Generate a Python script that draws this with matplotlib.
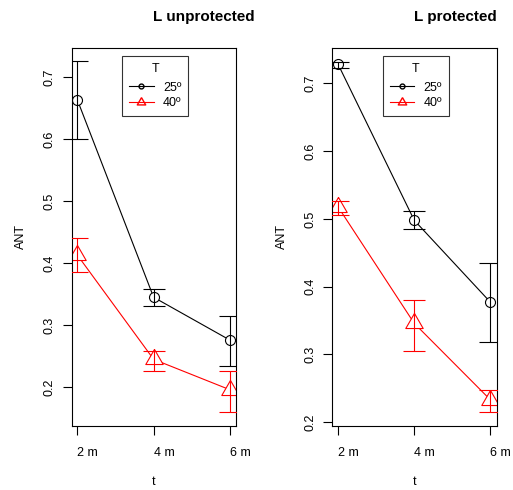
import matplotlib
matplotlib.use("Agg")
import matplotlib.pyplot as plt
from matplotlib.lines import Line2D
import numpy as np

plt.rcParams['font.family'] = ['Liberation Sans', 'DejaVu Sans']

# ANT by time (t) and temperature (T), mean with error limits
times = ['2 m', '4 m', '6 m']
temps = ['25º', '40º']

unprot_25 = [0.663, 0.345, 0.276]
unprot_25_lo = [0.600, 0.331, 0.235]
unprot_25_hi = [0.725, 0.358, 0.314]
unprot_40 = [0.413, 0.245, 0.196]
unprot_40_lo = [0.385, 0.227, 0.160]
unprot_40_hi = [0.441, 0.259, 0.226]

prot_25 = [0.7285, 0.498, 0.377]
prot_25_lo = [0.722, 0.485, 0.319]
prot_25_hi = [0.731, 0.511, 0.4345]
prot_40 = [0.518, 0.346, 0.233]
prot_40_lo = [0.506, 0.305, 0.215]
prot_40_hi = [0.527, 0.381, 0.247]

W, H = 513, 490
fig = plt.figure(figsize=(W / 100, H / 100), dpi=100)

# equilateral triangle like R pch=2
tri = [(0, 0.667), (-0.577, -0.333), (0.577, -0.333), (0, 0.667)]


def panel(left, ylim, series, title, title_x, leg_x):
    ax = fig.add_axes([left / W, (H - 426) / H, 164.2 / W, (426 - 47.7) / H])
    x = np.arange(1, len(times) + 1)
    styles = [('black', 'o', 7.2), ('red', tri, 14.5)]
    for (mean, lo, hi), (col, mk, ms) in zip(series, styles):
        mean = np.array(mean)
        ax.plot(x, mean, color=col, lw=0.8, zorder=1)
        ax.plot(x, mean, ls='none', marker=mk, ms=ms, mfc='white', mec=col,
                mew=0.8, zorder=2)
        ax.errorbar(x, mean, yerr=[mean - np.array(lo), np.array(hi) - mean],
                    fmt='none', ecolor=col, elinewidth=0.8, capsize=8,
                    capthick=0.8, zorder=3)
    ax.set_xlim(0.926, 3.079)
    ax.set_ylim(*ylim)
    ax.set_xticks(x)
    ax.set_xticklabels(times, ha='left', fontsize=9)
    ax.set_yticks([0.2, 0.3, 0.4, 0.5, 0.6, 0.7])
    ax.set_yticklabels(['0.2', '0.3', '0.4', '0.5', '0.6', '0.7'],
                       rotation=90, va='center', fontsize=9)
    ax.tick_params(axis='y', length=6.5, width=0.8, pad=5)
    ax.tick_params(axis='x', length=6.5, width=0.8, pad=8.5)
    for s in ax.spines.values():
        s.set_linewidth(0.8)
    ax.set_ylabel('ANT', fontsize=9, labelpad=12)
    ax.set_xlabel('t', fontsize=9, labelpad=12)
    fig.text(title_x / W, 1 - 17 / H, title, ha='center', va='center',
             fontsize=11, fontweight='bold')
    handles = [Line2D([], [], color='black', marker='o', ms=3.5, mfc='none', lw=0.8),
               Line2D([], [], color='red', marker=tri, ms=7, mfc='none', lw=0.8)]
    leg = ax.legend(handles, temps, title='T', fontsize=9, title_fontsize=9,
                    loc='upper left', bbox_to_anchor=(leg_x / W, 1 - 55.7 / H),
                    bbox_transform=fig.transFigure, frameon=True, fancybox=False,
                    handlelength=1.95, handletextpad=0.75, labelspacing=0.3,
                    borderpad=0.55, borderaxespad=0)
    leg._legend_box.sep = 5  # extra gap under the legend title
    leg.get_frame().set_edgecolor('black')
    leg.get_frame().set_linewidth(0.8)
    return ax


panel(71.7, (0.1376, 0.747),
      [(unprot_25, unprot_25_lo, unprot_25_hi), (unprot_40, unprot_40_lo, unprot_40_hi)],
      'L unprotected', 204, 122.3)
panel(332.3, (0.1945, 0.7525),
      [(prot_25, prot_25_lo, prot_25_hi), (prot_40, prot_40_lo, prot_40_hi)],
      'L protected', 455.5, 383)

fig.savefig('out.png', dpi=100)
